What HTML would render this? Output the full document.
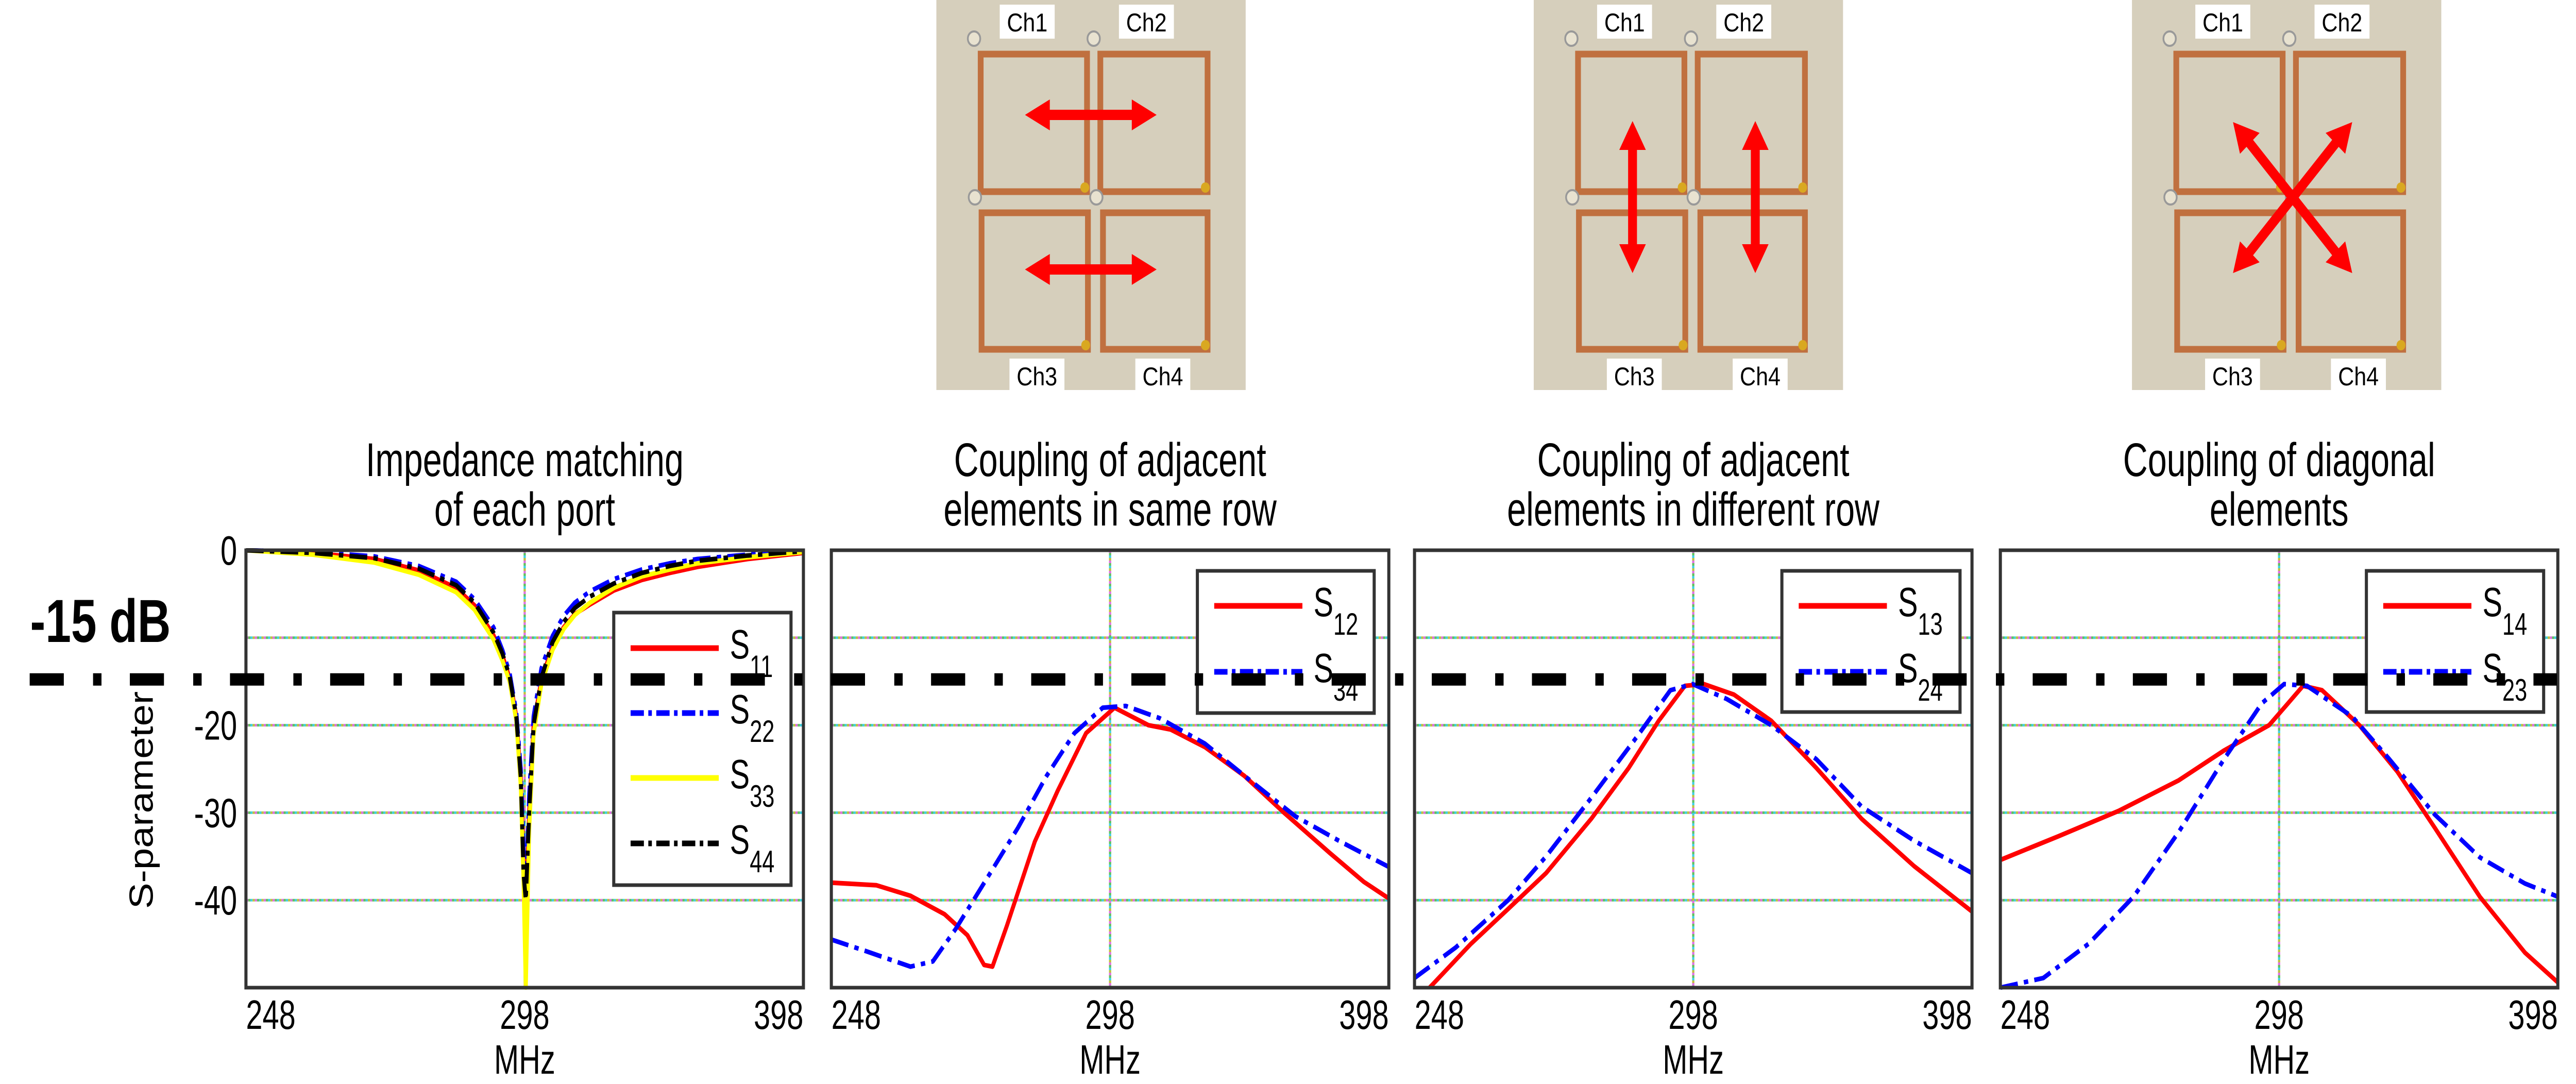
<!DOCTYPE html>
<html><head><meta charset="utf-8"><style>
html,body{margin:0;padding:0;background:#fff;width:100%;height:100%;overflow:hidden;}
svg{display:block;width:100vw;height:100vh;}
text{font-family:"Liberation Sans Narrow","Liberation Sans",sans-serif;}
</style></head><body>
<svg id="fig" viewBox="0 0 5813 2104" preserveAspectRatio="none" xmlns="http://www.w3.org/2000/svg">
<g id="photos"></g>
<g id="charts"></g>
<g id="overlay"></g>
</svg>
<script>
const NS='http://www.w3.org/2000/svg';
function mk(tag,attrs,parent){const e=document.createElementNS(NS,tag);for(const k in attrs)e.setAttribute(k,attrs[k]);if(parent)parent.appendChild(e);return e;}
const SX=0.84;
function ntext(parent,x,y,anchor,size,str){
  const t=mk('text',{x:0,y:0,'text-anchor':anchor,'font-size':size,fill:'#000',transform:'translate('+x+','+y+') scale('+SX+',1)'},parent);
  t.textContent=str;return t;
}

// ---- chart data ----
const xTickValues=[248,298,348];
const xTickLabels=['248','298','398'];
const yTickValues=[0,-20,-30,-40];
const yTickLabels=['0','-20','-30','-40'];
const gridY=[-10,-20,-30,-40];
const titles=[['Impedance matching','of each port'],['Coupling of adjacent','elements in same row'],['Coupling of adjacent','elements in different row'],['Coupling of diagonal','elements']];

const p1Freq=[248,260,271,279,285.7,289,292.4,294,295.3,296.5,297.3,297.8,298.2,298.8,299.6,301,303,305,307,309.7,314,319,324,329,338,348];
const s11=[0,-0.3,-1,-2.3,-4.3,-6.3,-9.7,-12,-14.6,-19,-26,-36,-42,-30,-20,-14.8,-11,-8.8,-7.3,-6.2,-4.6,-3.4,-2.6,-1.9,-1.0,-0.3];
const s22=[0,-0.2,-0.7,-1.8,-3.6,-5.6,-8.8,-11.4,-14,-18.5,-25,-34,-40,-28,-19,-13.5,-9.8,-7.5,-6,-4.7,-3.3,-2.2,-1.5,-1.0,-0.5,-0.1];
const s33=[0,-0.5,-1.4,-2.8,-4.8,-6.8,-10.2,-12.6,-15,-19.5,-27,-38,-50,-32,-21,-15.3,-11.4,-9,-7.4,-6,-4.3,-3,-2.2,-1.5,-0.8,-0.2];
const s44=[0,-0.3,-0.9,-2.1,-4,-6,-9.4,-11.8,-14.4,-19,-26,-37,-40,-30,-20,-14.6,-10.5,-8.2,-6.6,-5.3,-3.8,-2.6,-1.8,-1.2,-0.6,-0.1];

const p2Freq=[248,256.1,262.2,268.3,272.4,275.4,276.9,279.5,284.5,288.6,293.7,298.8,304.9,308.9,315,322.1,329.2,337.4,343.5,348];
const s12=[-38,-38.3,-39.5,-41.6,-44,-47.4,-47.6,-42.9,-33.3,-27.5,-20.9,-18,-20,-20.5,-22.5,-25.8,-30,-34.6,-37.9,-39.8];
const p2bFreq=[248,254.1,262.2,266.2,270.3,276.4,281.5,286.6,291.6,296.7,300.8,306.9,315,323.1,331.2,339.3,348];
const s34=[-44.5,-45.8,-47.6,-47,-43.3,-37,-31.7,-25.8,-20.9,-18,-17.8,-19.2,-22.1,-26.3,-30.4,-33.3,-36.2];

const p3Freq=[250.7,258.1,264.8,271.6,279.7,286.4,291.8,296.5,299.9,305.3,312,320.1,328.2,337.6,348];
const s13=[-50,-45,-41,-36.9,-30.7,-24.9,-19.5,-15.5,-15.3,-16.5,-19.5,-24.9,-30.7,-36.1,-41.3];
const p3bFreq=[248,255.4,264.8,271.6,279.7,287.8,293.9,297.9,304,312,320.1,328.2,337.6,348];
const s24=[-48.9,-45.4,-40,-35,-28.3,-21.4,-16,-15.3,-17,-20,-23.9,-29.3,-33.2,-36.9];

const p4Freq=[248,258.4,269.2,280,288.1,296.2,299.6,302.3,305.7,312.4,319.2,325.9,334,342.1,348];
const s14=[-35.4,-32.7,-29.8,-26.3,-22.9,-20,-17.5,-15.5,-16,-20,-25.3,-31.7,-39.6,-46,-49.4];
const p4bFreq=[248,255.7,263.8,271.9,280,288.1,294.9,298.9,303,311.1,317.8,325.9,334,342.1,348];
const s23=[-50,-48.9,-45,-39.6,-32.2,-23.9,-17.5,-15.3,-15.5,-19,-23.9,-30.2,-35.1,-38.1,-39.6];

const threshold=-15;

const panelLeft=[555,1876,3192,4514];
const panelW=1258, panelTop=1068, panelBot=1917;
const RED='#ff0000', BLUE='#0000ff', YEL='#ffff00', BLK='#000000';
const DASHDOT='40 14 10 14';
const panels=[
 {series:[{x:p1Freq,y:s11,c:RED,d:null,n:'s11'},{x:p1Freq,y:s22,c:BLUE,d:DASHDOT,n:'s22'},{x:p1Freq,y:s33,c:YEL,d:null,n:'s33'},{x:p1Freq,y:s44,c:BLK,d:DASHDOT,n:'s44'}],
  legend:{x:1385,y:1189,w:400,h:529,rows:[1258,1384,1510,1637],labels:['11','22','33','44']}},
 {series:[{x:p2Freq,y:s12,c:RED,d:null,n:'s12'},{x:p2bFreq,y:s34,c:BLUE,d:DASHDOT,n:'s34'}],
  legend:{x:2702,y:1108,w:399,h:276,rows:[1176,1304],labels:['12','34']}},
 {series:[{x:p3Freq,y:s13,c:RED,d:null,n:'s13'},{x:p3bFreq,y:s24,c:BLUE,d:DASHDOT,n:'s24'}],
  legend:{x:4021,y:1108,w:402,h:274,rows:[1176,1304],labels:['13','24']}},
 {series:[{x:p4Freq,y:s14,c:RED,d:null,n:'s14'},{x:p4bFreq,y:s23,c:BLUE,d:DASHDOT,n:'s23'}],
  legend:{x:5340,y:1108,w:400,h:274,rows:[1176,1304],labels:['14','23']}}
];
function yScale(v){return panelTop+(0-v)/50*(panelBot-panelTop);}
function xScale(i,f){return panelLeft[i]+(f-248)/100*panelW;}

const charts=document.getElementById('charts');
panels.forEach((p,i)=>{
  const g=mk('g',{},charts);
  
  
  const L=panelLeft[i], R=L+panelW;
  const cx=L+panelW/2;
  const t1=ntext(g,cx,924,'middle',92,titles[i][0]);
  
  
  const t2=ntext(g,cx,1020,'middle',92,titles[i][1]);
  
  
  const gColors=['#e070e0','#60c060','#40d0e0','#c0c040'];
  gridY.forEach(v=>{
    gColors.forEach((c,k)=>{
      const gl=mk('line',{x1:L,x2:R,y1:yScale(v),y2:yScale(v),stroke:c,'stroke-width':5,'stroke-dasharray':'5 15','stroke-dashoffset':-k*5},g);
      
      
    });
  });
  gColors.forEach((c,k)=>{
    const vl=mk('line',{x1:xScale(i,298),x2:xScale(i,298),y1:panelTop,y2:panelBot,stroke:c,'stroke-width':5,'stroke-dasharray':'5 15','stroke-dashoffset':-k*5},g);
    
    
  });
  const clipId='clip'+i;
  const cp=mk('clipPath',{id:clipId},g);mk('rect',{x:L,y:panelTop-4,width:panelW,height:panelBot-panelTop+8},cp);
  p.series.forEach(s=>{
    const pts=s.x.map((f,k)=>xScale(i,f).toFixed(1)+','+yScale(s.y[k]).toFixed(1)).join(' ');
    const pl=mk('polyline',{points:pts,fill:'none',stroke:s.c,'stroke-width':9,'stroke-linejoin':'round','clip-path':'url(#'+clipId+')'},g);
    if(s.d)pl.setAttribute('stroke-dasharray',s.d);
    
    
  });
  const fr=mk('rect',{x:L,y:panelTop,width:panelW,height:panelBot-panelTop,fill:'none',stroke:'#333','stroke-width':7},g);
  
  
  xTickValues.forEach((v,k)=>{
    const xx=xScale(i,v);
    const anchor=k===0?'start':(k===2?'end':'middle');
    const tx=ntext(g,xx,1997,anchor,80,xTickLabels[k]);
    
    
  });
  const xl=ntext(g,cx,2084,'middle',80,'MHz');
  
  
  const lg=p.legend;
  const lgG=mk('g',{},g);
  
  
  mk('rect',{x:lg.x,y:lg.y,width:lg.w,height:lg.h,fill:'#fff',stroke:'#333','stroke-width':7},lgG);
  p.series.forEach((s,k)=>{
    const yy=lg.rows[k];
    const ln=mk('line',{x1:lg.x+38,x2:lg.x+237,y1:yy,y2:yy,stroke:s.c,'stroke-width':11},lgG);
    if(s.d)ln.setAttribute('stroke-dasharray','30 10 8 10');
    
    
    const lt=mk('text',{x:0,y:0,'font-size':80,fill:'#000',transform:'translate('+(lg.x+262)+','+(yy+20)+') scale('+SX+',1)'},lgG);
    
    
    const a=mk('tspan',{},lt);a.textContent='S';
    const b=mk('tspan',{dy:36,'font-size':60},lt);b.textContent=lg.labels[k];
  });
});
yTickValues.forEach((v,k)=>{
  const ty=ntext(charts,535,yScale(v)+28,'end',80,yTickLabels[k]);
  
  
});
const yt=mk('text',{x:0,y:0,'text-anchor':'middle','font-size':76,fill:'#000',transform:'translate(345,1553) rotate(-90)',style:'font-family:"Liberation Sans",sans-serif'},charts);
yt.textContent='S-parameter';



const ov=document.getElementById('overlay');
const thl=mk('line',{x1:67,x2:5770,y1:yScale(threshold)-4,y2:yScale(threshold)-4,stroke:'#000','stroke-width':24,'stroke-dasharray':'77 66 19 64'},ov);


const tht=mk('text',{x:0,y:0,'font-size':118,'font-weight':'bold',fill:'#000',transform:'translate(68,1246) scale(0.88,1)',style:'font-family:"Liberation Sans",sans-serif'},ov);
tht.textContent='-15 dB';



const photoX=[2113,3461,4811];
const photos=document.getElementById('photos');
photoX.forEach((px,i)=>{
  const g=mk('g',{transform:'translate('+px+',0)'},photos);
  
  
  mk('rect',{x:0,y:0,width:698,height:757,fill:'#d6cfbc'},g);
  const loops=[[100,105,240,267],[370,105,242,267],[102,413,240,265],[376,413,236,265]];
  loops.forEach(l=>{
    const r=mk('rect',{x:l[0],y:l[1],width:l[2],height:l[3],fill:'none',stroke:'#c0703f','stroke-width':13},g);
    
    
    mk('circle',{cx:l[0]-15,cy:l[1]-30,r:14,fill:'#e8e2d0',stroke:'#999','stroke-width':4},g);
    mk('circle',{cx:l[0]+l[2]-5,cy:l[1]+l[3]-8,r:10,fill:'#d9a820'},g);
  });
  const labs=[['Ch1',143,9],['Ch2',412,9],['Ch3',165,696],['Ch4',449,696]];
  labs.forEach(l=>{
    mk('rect',{x:l[1],y:l[2],width:124,height:l[2]>600?61:66,fill:'#fff'},g);
    const t=mk('text',{x:l[1]+62,y:l[2]+52,'text-anchor':'middle','font-size':50,fill:'#000',style:'font-family:"Liberation Sans",sans-serif'},g);
    t.textContent=l[0];
    
    
  });
  let arrows;
  if(i===0)arrows=[[200,223,497,223],[200,523,497,523]];
  else if(i===1)arrows=[[223,235,223,530],[500,235,500,530]];
  else arrows=[[228,237,497,530],[497,237,228,530]];
  arrows.forEach(a=>{
    const ag=mk('g',{},g);
    
    
    const dx=a[2]-a[0],dy=a[3]-a[1],len=Math.hypot(dx,dy),ux=dx/len,uy=dy/len,nx=-uy,ny=ux;
    const H=56,W=30;
    mk('line',{x1:a[0]+ux*H*0.8,y1:a[1]+uy*H*0.8,x2:a[2]-ux*H*0.8,y2:a[3]-uy*H*0.8,stroke:'#ff0000','stroke-width':20},ag);
    [[a[0],a[1],1],[a[2],a[3],-1]].forEach(e=>{
      const bx=e[0]+e[2]*ux*H,by=e[1]+e[2]*uy*H;
      mk('polygon',{points:e[0]+','+e[1]+' '+(bx+nx*W)+','+(by+ny*W)+' '+(bx-nx*W)+','+(by-ny*W),fill:'#ff0000'},ag);
    });
  });
});
</script>
</body></html>
